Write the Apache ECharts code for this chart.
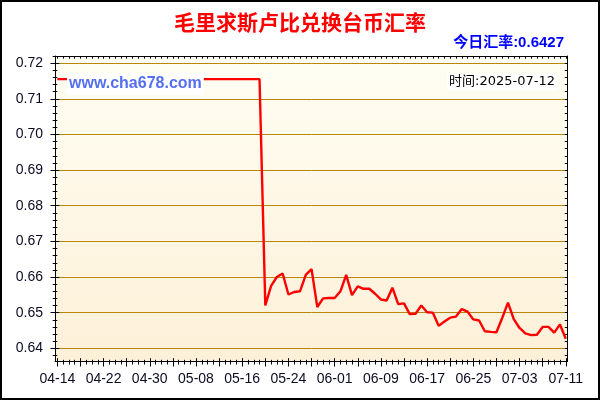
<!DOCTYPE html>
<html>
<head>
<meta charset="utf-8">
<script src="https://cdn.jsdelivr.net/npm/echarts@6/dist/echarts.min.js"></script>
<style>
html,body{margin:0;padding:0;background:#fff;}
#c{width:600px;height:400px;}
</style>
</head>
<body>
<div id="c"></div>
<script>
// ---- data ----
const year = 2025;
const dates = ['04-14','05-19','05-20','05-21','05-22','05-23','05-24','05-25','05-26','05-27','05-28','05-29','05-30','05-31',
  '06-01','06-02','06-03','06-04','06-05','06-06','06-07','06-08','06-09','06-10','06-11','06-12','06-13','06-14','06-15',
  '06-16','06-17','06-18','06-19','06-20','06-21','06-22','06-23','06-24','06-25','06-26','06-27','06-28','06-29','06-30',
  '07-01','07-02','07-03','07-04','07-05','07-06','07-07','07-08','07-09','07-10','07-11'];
const rates = [0.7155,0.7155,0.6520,0.6575,0.6600,0.6610,0.6551,0.6558,0.6560,0.6606,0.6622,0.6516,0.6540,0.6541,
  0.6541,0.6560,0.6606,0.6549,0.6574,0.6567,0.6567,0.6553,0.6537,0.6534,0.6570,0.6524,0.6526,0.6496,0.6497,
  0.6520,0.6501,0.6500,0.6463,0.6475,0.6486,0.6489,0.6510,0.6503,0.6481,0.6478,0.6448,0.6446,0.6445,0.6485,
  0.6528,0.6482,0.6457,0.6442,0.6437,0.6438,0.6460,0.6460,0.6444,0.6467,0.6427];
const xTickLabels = ['04-14','04-22','04-30','05-08','05-16','05-24','06-01','06-09','06-17','06-25','07-03','07-11'];
const yTickLabels = [0.64,0.65,0.66,0.67,0.68,0.69,0.70,0.71,0.72];
const titleText = '毛里求斯卢比兑换台币汇率';
const todayText = '今日汇率:0.6427';
const siteText = 'www.cha678.com';
const timeText = '时间:2025-07-12';

// ---- helpers ----
const base = Date.UTC(year, 3, 14);
function dayOf(md){ const p = md.split('-'); return Math.round((Date.UTC(year, +p[0]-1, +p[1]) - base)/86400000); }
function mdOf(day){ const d = new Date(base + day*86400000); return String(d.getUTCMonth()+1).padStart(2,'0')+'-'+String(d.getUTCDate()).padStart(2,'0'); }
const seriesData = dates.map((d,i)=>[dayOf(d), rates[i]]);
const labelDays = xTickLabels.map(dayOf);
const lastDay = labelDays[labelDays.length-1];
const allDays = []; for (let d=0; d<=lastDay; d++) allDays.push(d);
const majorDays = allDays.filter(d => d%4===0);
const yMinor = []; for (let k=-1; k<=(yTickLabels.length-1)*5+1; k++) yMinor.push(+(yTickLabels[0]+k*0.002).toFixed(3));

const XMIN=-0.4, XMAX=88.3, YMIN=0.6363, YMAX=0.7220;
const LBL = {fontFamily:'Liberation Sans, Arial, sans-serif', fontSize:14, color:'#0b0b22'};
const BLACK = {color:'#000', width:1};

function xAx(o){ return Object.assign({type:'value', min:XMIN, max:XMAX, axisLine:{show:false, onZero:false}, axisLabel:{show:false}, splitLine:{show:false}}, o); }
function yAx(o){ return Object.assign({type:'value', min:YMIN, max:YMAX, axisLine:{show:false, onZero:false}, axisLabel:{show:false}, splitLine:{show:false}}, o); }

const chart = echarts.init(document.getElementById('c'), null, {renderer:'canvas'});
chart.setOption({
  animation:false,
  backgroundColor:'#fff',
  title:{text:titleText, left:'center', top:12, padding:0,
    textStyle:{fontFamily:'Noto Sans CJK SC', fontSize:21, fontWeight:'bold', color:'#ff0000'}},
  grid:{left:55, top:56, right:32.5, bottom:38.5, show:true, borderWidth:0,
    backgroundColor:{type:'linear', x:0, y:0, x2:0, y2:1, colorStops:[{offset:0,color:'#fffef3'},{offset:1,color:'#fdf0d8'}]}},
  xAxis:[
    xAx({position:'bottom', axisLine:{show:true, onZero:false, lineStyle:BLACK},
      axisTick:{show:true, customValues:majorDays, length:5, lineStyle:BLACK},
      axisLabel:Object.assign({show:true, customValues:labelDays, margin:11, formatter:v=>mdOf(v)}, LBL)}),
    xAx({position:'bottom', axisTick:{show:true, customValues:allDays, length:3, lineStyle:BLACK}}),
    xAx({position:'bottom', axisTick:{show:true, inside:true, customValues:majorDays, length:3.3, lineStyle:BLACK}}),
    xAx({position:'bottom', axisTick:{show:true, inside:true, customValues:allDays, length:1.7, lineStyle:BLACK}}),
    xAx({position:'top', axisLine:{show:true, onZero:false, lineStyle:BLACK},
      axisTick:{show:true, inside:true, customValues:allDays, length:2.7, lineStyle:BLACK}})
  ],
  yAxis:[
    yAx({position:'left', axisLine:{show:true, onZero:false, lineStyle:BLACK},
      axisTick:{show:true, customValues:yTickLabels, length:4.5, lineStyle:BLACK},
      axisLabel:Object.assign({show:true, customValues:yTickLabels, margin:12, formatter:v=>v.toFixed(2)}, LBL),
      splitLine:{show:true, lineStyle:{color:'#b8860b', width:1}}}),
    yAx({position:'left', axisTick:{show:true, customValues:yMinor, length:2.3, lineStyle:BLACK}}),
    yAx({position:'left', axisTick:{show:true, inside:true, customValues:yTickLabels, length:4.3, lineStyle:BLACK}}),
    yAx({position:'left', axisTick:{show:true, inside:true, customValues:yMinor, length:2.3, lineStyle:BLACK}}),
    yAx({position:'right', axisLine:{show:true, onZero:false, lineStyle:BLACK},
      axisTick:{show:true, inside:true, customValues:yMinor, length:2.7, lineStyle:BLACK}})
  ],
  series:[{
    type:'line', xAxisIndex:0, yAxisIndex:0, data:seriesData, showSymbol:false, symbol:'none',
    lineStyle:{color:'#ff0000', width:2.4}, z:5
  }],
  graphic:[
    {type:'rect', z:100, shape:{x:1, y:1, width:598, height:398}, style:{fill:null, stroke:'#000', lineWidth:2}},
    {type:'text', z:100, x:564, y:43, style:{text:todayText, align:'right', verticalAlign:'middle',
      fill:'#0000ff', font:'bold 15px "Liberation Sans", "Noto Sans CJK SC", sans-serif'}},
    {type:'text', z:100, x:67, y:84, style:{text:siteText, align:'left', verticalAlign:'middle',
      fill:'#5570ee', font:'bold 16px "Liberation Sans", Arial, sans-serif', backgroundColor:'#ffffff', padding:[3,2,3,2]}},
    {type:'text', z:100, x:557, y:82, style:{text:timeText, align:'right', verticalAlign:'middle',
      fill:'#000', font:'13px "DejaVu Sans", "Noto Sans CJK SC", sans-serif', backgroundColor:'#ffffff', padding:[2,2,2,2]}}
  ]
});
</script>
</body>
</html>
